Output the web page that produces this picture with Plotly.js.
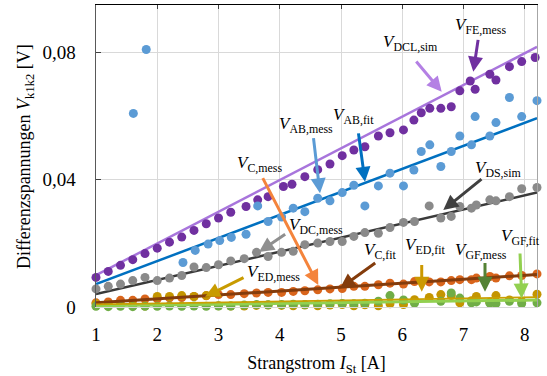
<!DOCTYPE html>
<html>
<head>
<meta charset="utf-8">
<script src="https://cdn.plot.ly/plotly-3.0.1.min.js"></script>
<style>html,body{margin:0;padding:0;background:#fff;}#chart{width:547px;height:376px;}</style>
</head>
<body>
<div id="chart"></div>
<script>
// ---- data ----
const fitX   = [1, 8.2];
const dclSim = [0.0100, 0.0818];
const abFit  = [0.0072, 0.0594];
const dsSim  = [0.0041, 0.0360];
const cFit   = [0.0013, 0.0102];
const edFit  = [0.0008, 0.0031];
const gfFit  = [0.0004, 0.0022];

const feX = [1.0,1.2,1.4,1.6,1.8,2.0,2.2,2.4,2.6,2.8,3.0,3.2,3.45,3.64,3.81,4.06,4.2,4.41,4.62,4.82,5.02,5.21,5.39,5.61,5.8,6.02,6.19,6.31,6.45,6.63,6.8,6.94,7.11,7.19,7.43,7.53,7.75,7.95,8.17];
const feY = [0.0093,0.0112,0.0131,0.0149,0.0168,0.0185,0.0204,0.0220,0.0241,0.0262,0.0280,0.0298,0.0316,0.0337,0.0347,0.0379,0.0386,0.0410,0.0432,0.0450,0.0476,0.0494,0.0504,0.0538,0.0548,0.0557,0.0588,0.0611,0.0625,0.0625,0.0630,0.0680,0.0711,0.0685,0.0732,0.0714,0.0756,0.0772,0.0785];

const abX = [1.61,1.82,2.42,2.62,2.83,3.02,3.21,3.45,3.64,3.81,4.03,4.22,4.41,4.62,4.82,5.02,5.21,5.39,5.61,5.8,6.02,6.19,6.31,6.45,6.63,6.8,6.94,7.13,7.19,7.43,7.53,7.75,7.95,8.2];
const abY = [0.0609,0.0810,0.0140,0.0178,0.0198,0.0209,0.0219,0.0229,0.0318,0.0269,0.0283,0.0311,0.0300,0.0342,0.0334,0.0360,0.0383,0.0318,0.0381,0.0421,0.0381,0.0431,0.0489,0.0510,0.0442,0.0489,0.0538,0.0510,0.0599,0.0538,0.0580,0.0659,0.0599,0.0649];

const gridX = [1.0,1.2,1.4,1.6,1.8,2.0,2.2,2.4,2.6,2.8,3.0,3.2,3.42,3.62,3.81,4.03,4.22,4.41,4.62,4.82,5.02,5.21,5.39,5.61,5.8,6.02,6.2,6.44,6.63,6.8,6.94,7.13,7.21,7.43,7.53,7.75,7.95,8.2];
const dcY = [0.0057,0.0065,0.0072,0.0083,0.0093,0.0083,0.0091,0.0099,0.0126,0.0124,0.0133,0.0145,0.0152,0.0172,0.0159,0.0172,0.0175,0.0196,0.0201,0.0206,0.0206,0.0222,0.0234,0.0232,0.0250,0.0266,0.0269,0.0318,0.0280,0.0285,0.0316,0.0311,0.0321,0.0337,0.0334,0.0347,0.0372,0.0376];
const cY  = [0.0013,0.0016,0.0021,0.0021,0.0025,0.0026,0.0029,0.0030,0.0033,0.0035,0.0039,0.0039,0.0042,0.0044,0.0046,0.0046,0.0049,0.0051,0.0054,0.0057,0.0058,0.0065,0.0065,0.0070,0.0075,0.0072,0.0080,0.0079,0.0079,0.0083,0.0086,0.0086,0.0091,0.0096,0.0091,0.0098,0.0099,0.0104];
const edY = [0.0010,0.0008,0.0008,0.0006,0.0003,0.0033,0.0033,0.0036,0.0033,0.0036,0.0004,0.0003,0.0003,0.0005,0.0006,0.0005,0.0004,0.0006,0.0004,0.0006,0.0008,0.0004,0.0007,0.0004,0.0010,0.0008,0.0023,0.0030,0.0039,0.0036,0.0013,0.0020,0.0033,0.0015,0.0036,0.0022,0.0018,0.0040];
const gfY = [0.0002,0.0001,0.0002,0.0001,0.0002,0.0002,0.0003,0.0002,0.0003,0.0002,0.0003,0.0003,0.0006,0.0008,0.0007,0.0008,0.0009,0.0008,0.0009,0.0010,0.0011,0.0010,0.0012,0.0018,0.0036,0.0022,0.0012,-0.0001,0.0018,0.0044,0.0028,0.0013,0.0016,0.0012,0.0011,0.0018,0.0011,0.0013];

const xTicks = [1,2,3,4,5,6,7,8];
const yTicks = [0, 0.04, 0.08];
const yTickText = ['0', '0,04', '0,08'];

// ---- labels & arrows (data coords) ----
const labels = [
  {t:'FE,mess',  x:6.829, y:0.0884},
  {t:'DCL,sim',  x:5.653, y:0.0830},
  {t:'AB,mess',  x:3.955, y:0.0574},
  {t:'AB,fit',   x:4.837, y:0.0601},
  {t:'C,mess',   x:3.269, y:0.0451},
  {t:'DC,mess',  x:4.118, y:0.0255},
  {t:'DS,sim',   x:7.155, y:0.0434},
  {t:'ED,mess',  x:3.433, y:0.0107},
  {t:'C,fit',    x:5.343, y:0.0176},
  {t:'ED,fit',   x:6.012, y:0.0192},
  {t:'GF,mess',  x:6.829, y:0.0176},
  {t:'GF,fit',   x:7.580, y:0.0220}
];
const arrows = [
  {ax:7.242, ay:0.0845, x:7.160, y:0.0740, c:'#7030a0'},
  {ax:6.208, ay:0.0777, x:6.644, y:0.0677, c:'#b480e4'},
  {ax:4.548, ay:0.0536, x:4.657, y:0.0358, c:'#5b9bd5'},
  {ax:5.282, ay:0.0551, x:5.392, y:0.0394, c:'#0070c0'},
  {ax:3.710, ay:0.0410, x:4.629, y:0.0069, c:'#f4843c'},
  {ax:4.113, ay:0.0232, x:3.661, y:0.0173, c:'#8f8f8f'},
  {ax:7.318, ay:0.0406, x:6.670, y:0.0305, c:'#404040'},
  {ax:3.433, ay:0.0095, x:2.780, y:0.0032, c:'#c89b00'},
  {ax:5.583, ay:0.0142, x:4.984, y:0.0059, c:'#843c0c'},
  {ax:6.318, ay:0.0137, x:6.318, y:0.0048, c:'#cc9900'},
  {ax:7.351, ay:0.0143, x:7.351, y:0.0048, c:'#548235'},
  {ax:7.922, ay:0.0173, x:7.950, y:0.0027, c:'#92d050'}
];

const serif = "'Liberation Serif', 'Times New Roman', serif";

function line(y, color, w) {
  return {x: fitX, y: y, mode: 'lines', line: {color: color, width: w}, hoverinfo: 'skip', cliponaxis: false};
}
function dots(x, y, color) {
  return {x: x, y: y, mode: 'markers', marker: {color: color, size: 9}, hoverinfo: 'skip', cliponaxis: false};
}

const traces = [
  line(dclSim, '#a875dc', 2.5),
  line(abFit, '#0070c0', 2.5),
  line(dsSim, '#3a3a3a', 2.5),
  dots(feX, feY, '#7030a0'),
  dots(abX, abY, '#5b9bd5'),
  dots(gridX, dcY, '#8a8a8a'),
  dots(gridX, cY, '#d9651c'),
  dots(gridX, edY, '#c49500'),
  dots(gridX, gfY, '#70ad47'),
  line(cFit, '#843c0c', 3),
  line(gfFit, '#92d050', 3),
  line(edFit, '#c9a000', 1.8),
  {x: fitX, y: dclSim, xaxis: 'x2', yaxis: 'y2', mode: 'lines', opacity: 0, hoverinfo: 'skip'}
];

const annotations = [];
labels.forEach(l => annotations.push({
  x: l.x, y: l.y, xref: 'x', yref: 'y', xanchor: 'left', yanchor: 'middle',
  text: '<i>V</i><sub>' + l.t + '</sub>', showarrow: false,
  font: {family: serif, size: 17, color: '#000'}
}));
arrows.forEach(a => annotations.push({
  x: a.x, y: a.y, ax: a.ax, ay: a.ay, xref: 'x', yref: 'y', axref: 'x', ayref: 'y',
  text: '', showarrow: true, arrowhead: 2, arrowsize: 1, arrowwidth: 3, arrowcolor: a.c, standoff: 0
}));
// y-axis title as rotated annotation
annotations.push({
  xref: 'paper', yref: 'paper', x: -0.161, y: 0.5, xanchor: 'center', yanchor: 'middle',
  text: 'Differenzspannungen <i>V</i><sub>k1k2</sub> [V]', showarrow: false, textangle: -90,
  font: {family: serif, size: 18, color: '#000'}
});

const layout = {
  width: 547, height: 376,
  margin: {l: 96, r: 10, t: 5, b: 69},
  paper_bgcolor: '#fff', plot_bgcolor: '#fff',
  showlegend: false,
  font: {family: serif, color: '#000'},
  xaxis: {
    range: [1, 8.2], tickvals: xTicks, ticktext: xTicks.map(String),
    showgrid: true, gridcolor: '#d9d9d9', gridwidth: 1, zeroline: false,
    showline: true, linecolor: '#d9d9d9', linewidth: 1, ticks: '',
    tickfont: {family: serif, size: 19, color: '#000'}, ticklabelstandoff: 10,
    title: {text: 'Strangstrom <i>I</i><sub>St</sub> [A]', font: {family: serif, size: 18, color: '#000'}, standoff: 14}
  },
  yaxis: {
    range: [0, 0.095], tickvals: yTicks, ticktext: yTickText,
    showgrid: true, gridcolor: '#d9d9d9', gridwidth: 1, zeroline: false,
    showline: true, linecolor: '#595959', linewidth: 1.5,
    ticks: 'inside', ticklen: 5, tickcolor: '#404040',
    tickfont: {family: serif, size: 19, color: '#000'}, ticklabelstandoff: 15
  },
  xaxis2: {
    overlaying: 'x', side: 'top', anchor: 'y', range: [1, 8.2], tickvals: xTicks,
    showticklabels: false, showgrid: false, zeroline: false,
    showline: true, linecolor: '#000', linewidth: 1, ticks: 'inside', ticklen: 4, tickcolor: '#404040'
  },
  yaxis2: {
    overlaying: 'y', side: 'right', anchor: 'x', range: [0, 0.095], tickvals: yTicks,
    showticklabels: false, showgrid: false, zeroline: false,
    showline: true, linecolor: '#a6a6a6', linewidth: 1, ticks: ''
  },
  annotations: annotations
};

Plotly.newPlot('chart', traces, layout, {staticPlot: true, displayModeBar: false});
</script>
</body>
</html>
